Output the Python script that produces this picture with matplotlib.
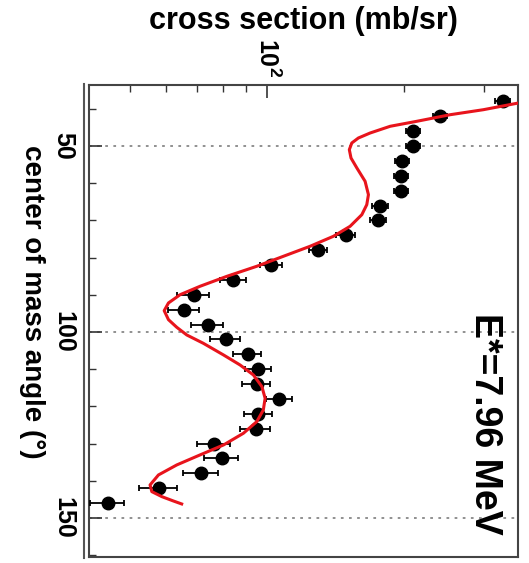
import numpy as np
import matplotlib
matplotlib.use("Agg")
import matplotlib.pyplot as plt
from matplotlib.lines import Line2D
from matplotlib.ticker import FixedLocator, MultipleLocator, NullFormatter

plt.rcParams['font.family'] = ['Liberation Sans', 'DejaVu Sans']
plt.rcParams['font.weight'] = 'bold'
plt.rcParams['mathtext.fontset'] = 'custom'
plt.rcParams['mathtext.rm'] = 'Liberation Sans:bold'
plt.rcParams['mathtext.bf'] = 'Liberation Sans:bold'

# measured angular distribution, E* = 7.96 MeV
angle = [38, 42, 46, 50, 54, 58, 62, 66, 70, 74, 78, 82, 86, 90,
         94, 98, 102, 106, 110, 114, 118, 122, 126, 130, 134, 138, 142, 146]
xsec = [329.6, 240, 209.7, 209.7, 197.7, 196.7, 196.7, 177.1, 175.7, 148.9,
        129.6, 102, 84.3, 68.9, 65.7, 74.1, 81.2, 90.7, 95.7, 94.9,
        106.3, 95.7, 94.4, 76.5, 79.5, 71.5, 57.9, 44.6]
xsec_err = [12, 8.5, 7.4, 7.4, 7, 7, 7, 7.2, 7.1, 7.5,
            5.9, 5.7, 5.5, 5.6, 5.0, 6.0, 6.2, 6.4, 6.1, 6.7,
            7.0, 6.8, 7.2, 6.2, 6.8, 6.3, 5.6, 3.8]
angle_err = 1.3

# calculation
calc_angle = [37.0, 38.44, 40.24, 41.59, 43.36, 44.70, 46.51, 47.85, 49.19, 50.99,
              53.23, 55.91, 59.49, 63.09, 65.78, 68.47, 71.59, 74.27, 76.96, 79.65,
              82.34, 85.03, 87.72, 89.97, 92.20, 94.27, 96.69, 98.74, 100.81, 103.04,
              106.18, 108.87, 111.56, 114.70, 117.82, 120.97, 124.11, 127.23, 130.38, 133.06,
              135.75, 138.44, 141.13, 142.93, 144.27, 145.43, 146.24]
calc_xsec = [410, 356.7, 298.8, 252.5, 213.3, 186.4, 168.4, 158.7, 153.5, 151.6,
             152.9, 157.5, 164.2, 167.0, 165.6, 161.5, 152.2, 139.9, 124.3, 108.6,
             94.9, 81.6, 71.2, 64.4, 60.7, 59.4, 60.7, 63.3, 66.6, 72.4,
             80.2, 87.2, 93.3, 97.4, 99.0, 98.1, 94.9, 88.7, 80.2, 71.2,
             63.3, 57.7, 55.3, 55.8, 58.7, 62.2, 64.9]

fig = plt.figure(figsize=(5.29, 5.63), dpi=100)
ax = fig.add_axes([89/529, 6/563, 429/529, 472/563])

ax.errorbar(xsec, angle, xerr=xsec_err, fmt='none', ecolor='black',
            elinewidth=1.3, capsize=2.5, capthick=1.3, zorder=3)
ax.errorbar(xsec, angle, yerr=angle_err, fmt='o', color='black',
            ms=9, elinewidth=2.0, capsize=0, zorder=4)
ax.plot(calc_xsec, calc_angle, color='#e8141c', lw=2.2, zorder=5)

ax.set_xscale('log')
ax.set_xlim(40.6, 356)
ax.set_ylim(160.5, 33.6)

# angle axis on the left, log axis on top
ax.yaxis.set_major_locator(FixedLocator([50, 100, 150]))
ax.yaxis.set_minor_locator(MultipleLocator(10))
ax.xaxis.tick_top()
ax.set_xticks([100], labels=[r'$\mathbf{10^2}$'], rotation=-90)
ax.xaxis.set_minor_locator(FixedLocator([40, 50, 60, 70, 80, 90, 200, 300]))
ax.xaxis.set_minor_formatter(NullFormatter())

ax.tick_params(axis='both', which='both', direction='in', color='#333333')
ax.tick_params(axis='both', which='major', length=9, width=1.2, labelsize=18)
ax.tick_params(axis='both', which='minor', length=5, width=1.0)
ax.tick_params(axis='y', labelrotation=-90, pad=10)
ax.tick_params(axis='x', labelrotation=-90, pad=6)
for lab in ax.get_yticklabels():
    lab.set_va('center')
for t in ax.xaxis.get_major_ticks():
    t.label2.set_rotation(-90)

ax.grid(axis='y', which='major', color='#888888', linestyle=(0, (1.5, 3)), lw=1.3)

for s in ax.spines.values():
    s.set_linewidth(1.5)
    s.set_color('#444444')

ax.xaxis.set_label_position('top')
ax.set_xlabel('cross section (mb/sr)', fontsize=22, fontweight='bold', va='center')
ax.xaxis.set_label_coords(0.5, 1 + 64/472)
ax.set_ylabel('center of mass angle (°)', fontsize=20, fontweight='bold',
              rotation=-90, va='center', ha='center')
ax.yaxis.set_label_coords(-57/429, 0.54)

ax.text(0.923, 0.516, 'E*=7.96 MeV', transform=ax.transAxes, rotation=-90,
        ha='center', va='top', fontsize=27, fontweight='bold')

# second frame line left of the axes
fig.add_artist(Line2D([84/529, 84/529], [1 - 84/563, 1 - 558/563],
                      color='#555555', lw=1.5))

fig.savefig('out.png', dpi=100)
